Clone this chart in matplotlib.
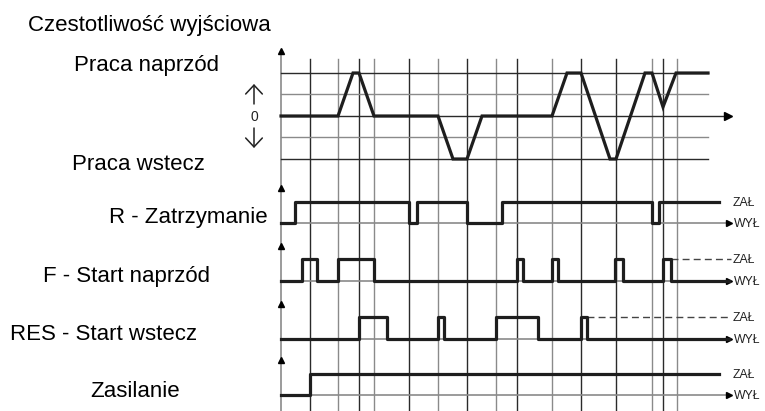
import matplotlib.pyplot as plt

plt.rcParams['font.family'] = ['Liberation Sans', 'DejaVu Sans']

# time axis: positions of the event grid lines (px along the time axis)
grid_t = [310, 338, 359, 374, 409, 438, 467, 496, 517, 552, 581, 616, 652, 663, 677]
grid_dark = [1, 0, 1, 0, 1, 0, 1, 0, 1, 0, 1, 1, 0, 1, 0]

# output frequency, in grid rows (+2 forward max, -2 reverse max)
freq_t = [281, 338, 353, 359, 374, 438, 453, 467, 482, 552, 567, 581, 610, 616, 645, 652, 663, 676, 708]
freq_v = [0, 0, 2, 2, 0, 0, -2, -2, 0, 0, 2, 2, -2, -2, 2, 2, 0.42, 2, 2]

# digital inputs: edge times and levels (1 = ZAŁ, 0 = WYŁ)
r_t = [281, 295, 409, 417, 467, 502, 652, 659, 719]
r_v = [0, 1, 0, 1, 0, 1, 0, 1, 1]
f_t = [281, 302, 317, 338, 374, 517, 523, 552, 558, 615, 623, 663, 671, 729]
f_v = [0, 1, 0, 1, 0, 1, 0, 1, 0, 1, 0, 1, 0, 0]
res_t = [281, 359, 387, 438, 444, 496, 538, 581, 587, 729]
res_v = [0, 1, 0, 1, 0, 1, 0, 1, 0, 0]
zas_t = [281, 310, 719]
zas_v = [0, 1, 1]

GREY = '#8a8a8a'
DARK = '#2a2a2a'
SIG = '#1e1e1e'

fig = plt.figure(figsize=(7.65, 4.11), dpi=100)
ax = fig.add_axes([0, 0, 1, 1])
ax.set_xlim(0, 765)
ax.set_ylim(411, 0)
ax.axis('off')

# vertical event lines
for t, d in zip(grid_t, grid_dark):
    ax.plot([t, t], [59, 411], color=DARK if d else GREY, lw=1.0, zorder=1)

# main time axis
ax.plot([281, 281], [52, 411], color=GREY, lw=1.2, zorder=1)

# frequency grid
zero_y = 116
row = 21.5
for k in [2, 1, -1, -2]:
    ax.plot([281, 708], [zero_y - k * row] * 2, color=DARK if k % 2 == 0 else GREY, lw=1.0, zorder=1)
ax.plot([281, 726], [zero_y, zero_y], color=DARK, lw=1.0, zorder=1)
ax.plot([728], [zero_y], marker='>', ms=6, color='black', zorder=3)
ax.plot([281], [51], marker='^', ms=5, color='black', zorder=3)

ax.plot(freq_t, [zero_y - v * row for v in freq_v], color=SIG, lw=2.3,
        solid_joinstyle='miter', zorder=4)

# digital channels: (times, values, low y, high y, dashed from)
channels = [
    (r_t, r_v, 223, 202, None),
    (f_t, f_v, 281, 259, 671),
    (res_t, res_v, 339, 317, 587),
    (zas_t, zas_v, 395, 374, None),
]
for t, v, lo, hi, dash_from in channels:
    ax.plot([281, 727], [lo, lo], color=GREY, lw=1.2, zorder=1)
    ax.plot([729], [lo], marker='>', ms=5, color='black', zorder=3)
    ax.plot([281], [lo - 35], marker='^', ms=5, color='black', zorder=3)
    ys = [lo - (lo - hi) * x for x in v]
    ax.step(t, ys, where='post', color=SIG, lw=2.3, zorder=4)
    if dash_from is not None:
        ax.plot([dash_from, 731], [hi, hi], color='#444444', lw=1.0,
                dashes=(5, 3), zorder=2)
    ax.text(733, hi + 1, 'ZAŁ', fontsize=8.8, va='center', ha='left', color='#222222')
    ax.text(734, lo + 1, 'WYŁ', fontsize=8.8, va='center', ha='left', color='#222222')

# labels
big = 16
ax.text(28, 30.5, 'Czestotliwość wyjściowa', fontsize=big, va='baseline')
ax.text(74, 71.5, 'Praca naprzód', fontsize=big, va='baseline')
ax.text(72, 170, 'Praca wstecz', fontsize=big, va='baseline')
ax.text(268, 223, 'R - Zatrzymanie', fontsize=big, va='baseline', ha='right')
ax.text(43, 282, 'F - Start naprzód', fontsize=big, va='baseline')
ax.text(10, 340, 'RES - Start wstecz', fontsize=big, va='baseline')
ax.text(90, 397, 'Zasilanie', fontsize=big, va='baseline')

# up/down arrows around zero
arrow_style = '->,head_width=0.3,head_length=0.32'
ax.annotate('', xy=(254, 84), xytext=(254, 104),
            arrowprops=dict(arrowstyle=arrow_style, lw=1.1, color='#222222',
                            mutation_scale=20, shrinkA=0, shrinkB=0))
ax.annotate('', xy=(254, 148), xytext=(254, 128),
            arrowprops=dict(arrowstyle=arrow_style, lw=1.1, color='#222222',
                            mutation_scale=20, shrinkA=0, shrinkB=0))
ax.text(254, 117, '0', fontsize=10, ha='center', va='center', color='#222222')

fig.savefig('out.png', dpi=100)
